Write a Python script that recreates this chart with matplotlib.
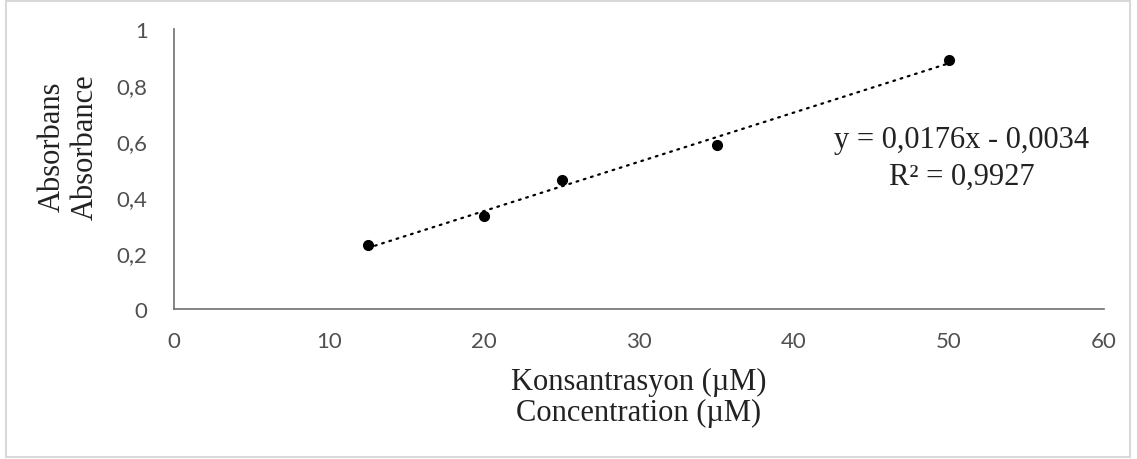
import numpy as np
import matplotlib
matplotlib.use("Agg")
import matplotlib.pyplot as plt
from matplotlib.patches import Rectangle

# Data
concentration = [12.5, 20, 25, 35, 50]
absorbance = [0.227, 0.333, 0.461, 0.586, 0.890]
x_ticks = [0, 10, 20, 30, 40, 50, 60]
y_ticks = [0, 0.2, 0.4, 0.6, 0.8, 1.0]
y_tick_labels = ["0", "0,2", "0,4", "0,6", "0,8", "1"]
equation_text = "y = 0,0176x - 0,0034\nR² = 0,9927"
x_label = "Konsantrasyon (µM)\nConcentration (µM)"
y_label = "Absorbans\nAbsorbance"

fig = plt.figure(figsize=(11.37, 4.6), dpi=100)
ax = fig.add_axes([174/1137, 150/460, (1104-174)/1137, 280/460])

# Trendline from linear fit
coef = np.polyfit(concentration, absorbance, 1)
xs = np.array([min(concentration), max(concentration)])
ax.plot(xs, np.polyval(coef, xs), color="black", lw=1.6,
        linestyle=(0, (0.8, 2.6)), dash_capstyle="round", zorder=2)
ax.plot(concentration, absorbance, "o", color="black", markersize=7, zorder=3)

ax.set_xlim(0, 60)
ax.set_ylim(0, 1)
ax.set_xticks(x_ticks)
ax.set_xticklabels([str(v) for v in x_ticks])
ax.set_yticks(y_ticks)
ax.set_yticklabels(y_tick_labels)

for lab in ax.get_xticklabels() + ax.get_yticklabels():
    lab.set_fontfamily(["Lato", "DejaVu Sans"])
    lab.set_fontsize(16)
    lab.set_color("#505050")
ax.tick_params(axis="both", length=0)
ax.tick_params(axis="y", pad=19)
ax.tick_params(axis="x", pad=16)

for s in ["top", "right"]:
    ax.spines[s].set_visible(False)
for s in ["left", "bottom"]:
    ax.spines[s].set_color("#6e6e6e")
    ax.spines[s].set_linewidth(1.2)

serif = ["Liberation Serif", "DejaVu Serif"]
fig.text(639/1137, 1 - 398/460, x_label, ha="center", va="center",
         fontsize=22, family=serif, color="#222222", linespacing=1.08)
fig.text(69/1137, 1 - 147/460, y_label, ha="center", va="center",
         rotation=90, fontsize=22, family=serif, color="#222222", linespacing=1.2)
fig.text(962/1137, 1 - 159/460, equation_text, ha="center", va="center",
         fontsize=22, family=serif, color="#222222", linespacing=1.35)

# Outer light border
fig.patches.append(Rectangle((6/1137, 2/460), 1124/1137, 456/460,
                             transform=fig.transFigure, fill=False,
                             edgecolor="#d9d9d9", linewidth=1.5))

fig.savefig("out.png", dpi=100)
